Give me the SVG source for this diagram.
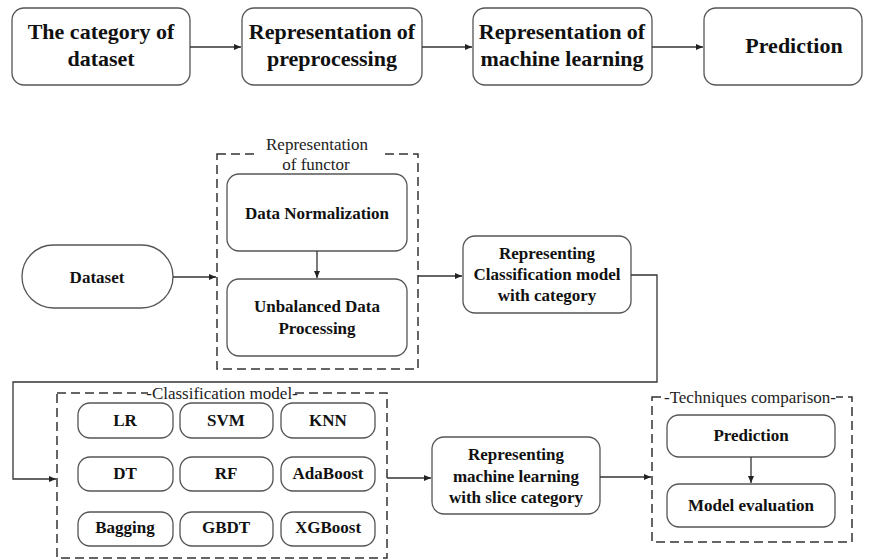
<svg xmlns="http://www.w3.org/2000/svg" width="870" height="560" viewBox="0 0 870 560">
<defs>
<marker id="arr" markerWidth="8" markerHeight="8" refX="7" refY="4" orient="auto" markerUnits="userSpaceOnUse">
<path d="M0,1 L7,4 L0,7 Z" fill="#222"/>
</marker>
<style>
.box{fill:#fff;stroke:#555;stroke-width:1.3}
.dash{fill:none;stroke:#333;stroke-width:1.5;stroke-dasharray:9 5}
.t{font-family:"Liberation Serif",serif;font-weight:bold;fill:#111;text-anchor:middle}
.big{font-size:22px}
.mid{font-size:17px}
.ttl{font-family:"Liberation Serif",serif;font-size:17px;fill:#222;text-anchor:middle}
.ln{fill:none;stroke:#333;stroke-width:1.3}
</style>
</defs>
<rect width="870" height="560" fill="#fff"/>

<g id="top1"><rect class="box" x="12" y="8" width="178" height="77" rx="12"/>
<text class="t big" x="101" y="39">The category of</text><text class="t big" x="101" y="66">dataset</text></g>
<g id="top2"><rect class="box" x="242" y="8" width="180" height="77" rx="12"/>
<text class="t big" x="332" y="39">Representation of</text><text class="t big" x="332" y="66">preprocessing</text></g>
<g id="top3"><rect class="box" x="473" y="8" width="179" height="77" rx="12"/>
<text class="t big" x="562" y="39">Representation of</text><text class="t big" x="562" y="66">machine learning</text></g>
<g id="top4"><rect class="box" x="704" y="8" width="158" height="77" rx="12"/>
<text class="t big" x="794" y="53">Prediction</text></g>

<g id="dataset"><rect class="box" x="22" y="245" width="151" height="63" rx="31.5"/>
<text class="t mid" x="97" y="283">Dataset</text></g>

<g id="functor"><rect class="dash" x="217" y="154" width="201" height="215"/>
<rect x="255" y="140" width="125" height="30" fill="#fff"/>
<text class="ttl" x="317" y="150">Representation</text><text class="ttl" x="316" y="170">of functor</text></g>
<g id="norm"><rect class="box" x="227" y="174" width="180" height="77" rx="12"/>
<text class="t mid" x="317" y="219">Data Normalization</text></g>
<g id="unbal"><rect class="box" x="227" y="279" width="180" height="77" rx="12"/>
<text class="t mid" x="317" y="312">Unbalanced Data</text><text class="t mid" x="317" y="334">Processing</text></g>

<g id="repclass"><rect class="box" x="463" y="236" width="168" height="77" rx="12"/>
<text class="t mid" x="547" y="259">Representing</text><text class="t mid" x="547" y="280">Classification model</text><text class="t mid" x="547" y="301">with category</text></g>

<g id="classmodel"><rect class="dash" x="57" y="393" width="330" height="165"/>
<rect x="148" y="385" width="146" height="16" fill="#fff"/>
<text class="ttl" x="222" y="399">-Classification model-</text></g>
<g id="lr"><rect class="box" x="78" y="403" width="95" height="35" rx="12"/><text class="t mid" x="125" y="426">LR</text></g>
<g id="svm"><rect class="box" x="180" y="403" width="93" height="35" rx="12"/><text class="t mid" x="226" y="426">SVM</text></g>
<g id="knn"><rect class="box" x="281" y="403" width="94" height="35" rx="12"/><text class="t mid" x="328" y="426">KNN</text></g>
<g id="dt"><rect class="box" x="78" y="457" width="95" height="34" rx="12"/><text class="t mid" x="125" y="479">DT</text></g>
<g id="rf"><rect class="box" x="180" y="457" width="93" height="34" rx="12"/><text class="t mid" x="226" y="479">RF</text></g>
<g id="ada"><rect class="box" x="281" y="457" width="94" height="34" rx="12"/><text class="t mid" x="328" y="479">AdaBoost</text></g>
<g id="bag"><rect class="box" x="78" y="512" width="95" height="34" rx="12"/><text class="t mid" x="125" y="533">Bagging</text></g>
<g id="gbdt"><rect class="box" x="180" y="512" width="93" height="34" rx="12"/><text class="t mid" x="226" y="533">GBDT</text></g>
<g id="xgb"><rect class="box" x="281" y="512" width="94" height="34" rx="12"/><text class="t mid" x="328" y="533">XGBoost</text></g>

<g id="repml"><rect class="box" x="432" y="437" width="168" height="77" rx="12"/>
<text class="t mid" x="516" y="460">Representing</text><text class="t mid" x="516" y="482">machine learning</text><text class="t mid" x="516" y="503">with slice category</text></g>

<g id="techniques"><rect class="dash" x="652" y="397" width="200" height="145"/>
<rect x="664" y="388" width="172" height="18" fill="#fff"/>
<text class="ttl" x="750" y="403">-Techniques comparison-</text></g>
<g id="pred"><rect class="box" x="667" y="415" width="168" height="42" rx="12"/><text class="t mid" x="751" y="441">Prediction</text></g>
<g id="eval"><rect class="box" x="667" y="484" width="168" height="43" rx="12"/><text class="t mid" x="751" y="511">Model evaluation</text></g>

<g id="connectors">
<line class="ln" x1="190" y1="47" x2="241" y2="47" marker-end="url(#arr)"/>
<line class="ln" x1="422" y1="47" x2="472" y2="47" marker-end="url(#arr)"/>
<line class="ln" x1="652" y1="47" x2="703" y2="47" marker-end="url(#arr)"/>
<line class="ln" x1="173" y1="277" x2="216" y2="277" marker-end="url(#arr)"/>
<line class="ln" x1="317" y1="251" x2="317" y2="278" marker-end="url(#arr)"/>
<line class="ln" x1="418" y1="276" x2="462" y2="276" marker-end="url(#arr)"/>
<polyline class="ln" points="631,275 657,275 657,382 13,382 13,479 56,479" marker-end="url(#arr)"/>
<line class="ln" x1="387" y1="478" x2="431" y2="478" marker-end="url(#arr)"/>
<line class="ln" x1="600" y1="477" x2="651" y2="477" marker-end="url(#arr)"/>
<line class="ln" x1="751" y1="457" x2="751" y2="483" marker-end="url(#arr)"/>
</g>
</svg>
